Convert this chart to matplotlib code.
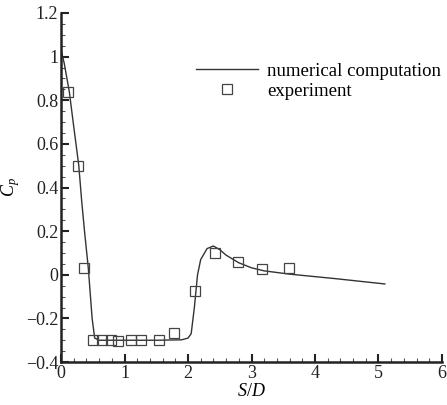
import matplotlib
matplotlib.use("Agg")
import matplotlib.pyplot as plt
from matplotlib.ticker import MultipleLocator

plt.rcParams['font.family'] = ['Liberation Serif', 'DejaVu Serif']
plt.rcParams['mathtext.fontset'] = 'custom'
plt.rcParams['mathtext.it'] = 'Liberation Serif:italic'
plt.rcParams['mathtext.rm'] = 'Liberation Serif'

# numerical computation
num_s = [0.0, 0.05, 0.13, 0.20, 0.28, 0.325, 0.37, 0.43, 0.49, 0.53, 0.60, 1.0, 1.5, 1.9, 2.0,
         2.05, 2.10, 2.15, 2.20, 2.30, 2.40, 2.50, 2.60, 2.80, 3.00, 3.20, 3.60, 4.30, 5.10]
num_cp = [1.03, 0.97, 0.84, 0.68, 0.50, 0.34, 0.20, 0.03, -0.20, -0.29, -0.30, -0.30, -0.30, -0.298, -0.29,
          -0.27, -0.15, 0.0, 0.07, 0.12, 0.132, 0.115, 0.09, 0.055, 0.032, 0.018, 0.003, -0.017, -0.042]

# experiment
exp_s = [0.105, 0.26, 0.36, 0.51, 0.65, 0.79, 0.90, 1.10, 1.26, 1.55, 1.78, 2.11, 2.43, 2.78, 3.16, 3.59]
exp_cp = [0.84, 0.50, 0.03, -0.30, -0.30, -0.30, -0.305, -0.30, -0.30, -0.30, -0.266, -0.074, 0.102, 0.058, 0.026, 0.029]

xticks = [0, 1, 2, 3, 4, 5, 6]
xtick_labels = ['0', '1', '2', '3', '4', '5', '6']
yticks = [-0.4, -0.2, 0, 0.2, 0.4, 0.6, 0.8, 1.0, 1.2]
ytick_labels = ['\u22120.4', '\u22120.2', '0', '0.2', '0.4', '0.6', '0.8', '1', '1.2']

fig = plt.figure(figsize=(4.47, 4.05), dpi=100)
ax = fig.add_axes([0.1365, 0.106, 0.8523, 0.862])

ax.plot(num_s, num_cp, color='#333333', lw=1.0, label='numerical computation')
ax.plot(exp_s, exp_cp, ls='none', marker='s', ms=6.5, mfc='none', mec='#444444', mew=0.9,
        label='experiment')

ax.set_xlim(0, 6)
ax.set_ylim(-0.4, 1.2)
ax.set_xticks(xticks)
ax.set_xticklabels(xtick_labels)
ax.set_yticks(yticks)
ax.set_yticklabels(ytick_labels)
ax.xaxis.set_minor_locator(MultipleLocator(0.2))
ax.yaxis.set_minor_locator(MultipleLocator(0.05))

for s in ['top', 'right']:
    ax.spines[s].set_visible(False)
for s in ['left', 'bottom']:
    ax.spines[s].set_linewidth(1.8)
    ax.spines[s].set_color('#222222')

ax.tick_params(which='major', direction='in', length=6, width=1.5, labelsize=13, colors='#222222', pad=2)
ax.tick_params(which='minor', direction='in', length=3, width=0.8, colors='#555555')

ax.set_xlabel('$S/D$', fontsize=13, labelpad=1)
ax.set_ylabel('$C_p$', fontsize=13, labelpad=3)

leg = ax.legend(loc='upper left', bbox_to_anchor=(0.33, 0.885), frameon=False, fontsize=13.5,
                handlelength=3.3, handletextpad=0.5, labelspacing=0.15, borderpad=0)

fig.savefig('out.png', dpi=100)
